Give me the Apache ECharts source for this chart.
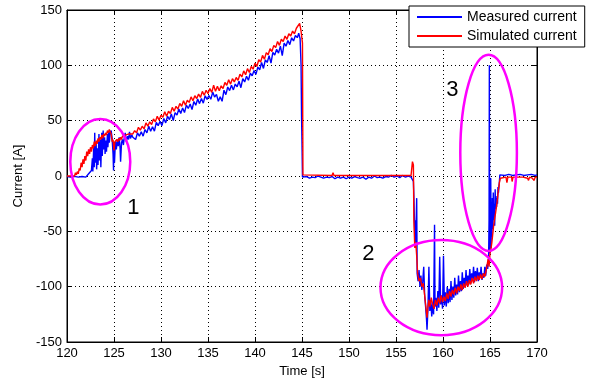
<!DOCTYPE html>
<html>
<head>
<meta charset="utf-8">
<script src="https://cdn.jsdelivr.net/npm/echarts@6/dist/echarts.min.js"></script>
<style>
  html, body { margin: 0; padding: 0; background: #fff; }
  #chart { width: 596px; height: 383px; }
</style>
</head>
<body>
<div id="chart"></div>
<script>
// Time [s] / current [A] samples
const measuredCurrent = [
  [120,-0.5],[120.4,-1],[120.8,-0.3],[121.2,-1],[121.6,-0.5],[122.0,-1],[122.1,0],[122.3,2],[122.5,3],[122.6,5],
  [122.7,16],[122.75,4],[122.85,28],[122.9,8],[122.95,39],[123.0,12],[123.1,30],[123.15,6],[123.25,25],[123.3,10],
  [123.4,38],[123.45,14],[123.55,33],[123.6,8],[123.7,39],[123.75,18],[123.85,41],[123.9,24],[124.0,35],[124.05,20],
  [124.15,32],[124.2,22],[124.3,38],[124.35,26],[124.45,40],[124.5,30],[124.6,39],[124.7,41],[124.8,34],[124.9,20],
  [124.95,5],[125.0,30],[125.05,12],[125.15,31],[125.25,24],[125.35,33],[125.45,27],[125.55,35],[125.65,25],[125.7,13],
  [125.8,30],[125.9,33],[126.0,28],[126.1,35],[126.2,39],[126.3,31],[126.45,36],[126.55,33],[126.65,40],[126.75,34],
  [126.9,37],[127.0,35],
  [127.1,36],[127.3,33],[127.5,39],[127.7,36],[127.9,40],[128.1,36],[128.3,42],[128.5,39],[128.7,45],[128.9,40.5],
  [129.1,44.5],[129.3,40.5],[129.5,48.5],[129.7,45.5],[129.9,49.5],[130.1,45.5],[130.3,52],[130.5,48],[130.7,54],[130.9,51],
  [131.1,56],[131.3,50],[131.5,57.3],[131.7,55],[131.9,60.5],[132.1,56.5],[132.3,61.4],[132.5,57.3],[132.7,64],[132.9,61],
  [133.1,65],[133.3,60],[133.5,67.3],[133.7,64],[133.9,69.6],[134.1,65.4],[134.3,70],[134.5,65.8],[134.7,72.5],[134.9,69.2],
  [135.1,72.8],[135.3,69.3],[135.5,75.8],[135.7,71.3],[135.9,73.8],[136.1,67.5],[136.3,71.5],[136.5,67.5],[136.7,77.5],[136.9,73.5],
  [137.1,80.4],[137.3,77.2],[137.5,82],[137.7,77.8],[137.9,83.1],[138.1,80.6],[138.3,85.7],[138.5,79.8],[138.7,87.9],[138.9,85],
  [139.1,90.2],[139.3,86.5],[139.5,92.8],[139.7,90.6],[139.9,95.4],[140.1,91.8],[140.3,98.4],[140.5,96],[140.7,102.6],[140.9,97.2],
  [141.1,104.9],[141.3,102.6],[141.5,108.8],[141.7,102],[141.9,111.7],[142.1,109.2],[142.3,114.6],[142.5,111],[142.7,117.4],[142.9,108.8],
  [143.1,120.1],[143.3,117.3],[143.5,122.5],[143.7,118.7],[143.9,124.9],[144.1,122],[144.3,127],[144.5,125],[144.65,129],[144.8,124],
  [144.9,100],[144.95,55],[145.0,30],[145.05,-1],
  [145.2,-1],[145.5,-0.5],[145.8,-2],[146.1,-1],[146.4,-1.5],[146.7,0],[147.0,-1],[147.3,-2],[147.6,-1],[147.9,-1.5],
  [148.2,-0.5],[148.5,-2.5],[148.8,-1],[149.1,-2],[149.4,-1],[149.7,-2.5],[150.0,-1],[150.3,-2],[150.6,-0.5],[150.9,-1.5],
  [151.2,-2],[151.5,-1],[151.8,-3],[152.1,-1],[152.4,-2],[152.7,0],[153.0,-1.5],[153.3,-1],[153.6,-2],[153.9,-0.5],
  [154.2,-1],[154.5,0.5],[154.8,-1],[155.1,0],[155.4,-1.5],[155.7,0.5],[156.0,-1],[156.3,0],[156.6,-1],[156.8,-1],
  [156.85,-5],[156.9,-18],[157.0,-55],[157.05,-40],[157.1,-60],[157.2,-20],[157.25,-88],[157.35,-95],[157.45,-85],[157.55,-100],
  [157.65,-90],[157.75,-103],[157.85,-95],[157.95,-82],[158.05,-108],[158.15,-118],[158.25,-130],[158.3,-139],[158.4,-120],[158.5,-82],
  [158.6,-122],[158.7,-112],[158.8,-127],[158.9,-115],[159.0,-125],[159.1,-44],[159.15,-118],[159.25,-110],[159.35,-122],[159.45,-104],
  [159.55,-119],[159.65,-73],[159.75,-116],[159.85,-108],[159.95,-120],[160.05,-72],[160.15,-117],[160.25,-105],[160.35,-118],[160.45,-100],
  [160.55,-115],[160.65,-102],[160.75,-114],[160.85,-95],[160.95,-112],[161.05,-100],[161.15,-110],[161.25,-92],[161.35,-108],[161.45,-98],
  [161.55,-107],[161.65,-90],[161.75,-105],[161.85,-95],[161.95,-104],[162.05,-87],[162.15,-102],[162.25,-92],[162.35,-100],[162.45,-85],
  [162.55,-99],[162.65,-90],[162.75,-98],[162.85,-84],[162.95,-97],[163.05,-88],[163.15,-95],[163.25,-82],[163.35,-96],[163.45,-86],
  [163.55,-94],[163.65,-83],[163.75,-95],[163.85,-87],[163.95,-92],[164.05,-82],[164.15,-94],[164.25,-88],[164.35,-92],[164.45,-82],
  [164.55,-90],[164.65,-80],[164.75,-84],[164.85,-75],[164.9,-40],[164.93,100],[164.96,-60],[165.0,-70],[165.05,-50],[165.08,-2],
  [165.12,-65],[165.15,-35],[165.2,-55],[165.25,-20],[165.3,-48],[165.35,-15],[165.4,-40],[165.45,-25],[165.5,-45],[165.55,-12],
  [165.6,-30],[165.65,-20],[165.7,-28],[165.75,-18],[165.8,-25],[165.85,-10],[165.9,-15],[166.0,-5],[166.05,1],[166.2,1],
  [166.6,0.5],[167.0,1.5],[167.4,0.5],[167.8,1],[168.2,1.5],[168.6,0.5],[169.0,1],[169.4,1.5],[169.8,0.5],[170,1]
];

const simulatedCurrent = [
  [120,0],[120.8,0],[120.9,3],[121.0,1],[121.1,4],[121.2,2],[121.3,7],[121.4,5],[121.5,12],[121.6,8],
  [121.7,15],[121.8,11],[121.9,18],[122.0,14],[122.1,22],[122.2,18],[122.3,24],[122.4,20],[122.5,26],[122.6,22],
  [122.7,28],[122.8,25],[122.9,31],[123.0,27],[123.1,32],[123.2,29],[123.3,34],[123.4,31],[123.5,35],[123.6,33],
  [123.7,37],[123.8,34],[123.9,38],[124.0,36],[124.1,39],[124.2,37],[124.3,41],[124.4,39],[124.5,42],[124.6,40],
  [124.7,38],[124.8,31],[124.9,33],[125.0,23],[125.1,31],[125.2,30],[125.3,33],[125.4,31],[125.5,34],[125.6,32],
  [125.7,35],[125.8,33],[125.9,36],[126.0,35],[126.2,37],[126.4,36],[126.6,38],[126.8,37],[127.0,38],
  [127.2,41],[127.4,39],[127.6,44],[127.8,41.5],[128.0,45],[128.2,42.5],[128.4,48],[128.6,45],[128.8,49],[129.0,46.5],
  [129.2,51.5],[129.4,49],[129.6,54],[129.8,50.5],[130.0,55],[130.2,53],[130.4,58],[130.6,54],[130.8,58.5],[131.0,56.5],
  [131.2,62],[131.4,58.5],[131.6,63],[131.8,60.5],[132.0,65.5],[132.2,63],[132.4,68],[132.6,64],[132.8,68.5],[133.0,66.5],
  [133.2,71.5],[133.4,68],[133.6,72.5],[133.8,70],[134.0,74],[134.2,71],[134.4,76.5],[134.6,73],[134.8,77.5],[135.0,74.5],
  [135.2,79],[135.4,75.5],[135.6,82],[135.8,76.5],[136.0,81],[136.2,77],[136.4,81.5],[136.6,79],[136.8,84.5],[137.0,82],
  [137.2,87],[137.4,83],[137.6,88],[137.8,85],[138.0,89],[138.2,86.5],[138.4,92],[138.6,89.5],[138.8,95],[139.0,91.5],
  [139.2,97],[139.4,93.5],[139.6,99],[139.8,96.5],[140.0,102],[140.2,99],[140.4,105],[140.6,103],[140.8,109],[141.0,105.5],
  [141.2,111.5],[141.4,109.5],[141.6,115],[141.8,112.5],[142.0,118],[142.2,116],[142.4,121.5],[142.6,118],[142.8,123.5],[143.0,121.5],
  [143.2,126.5],[143.4,123.5],[143.6,128.5],[143.8,126.5],[144.0,131],[144.2,128.5],[144.4,133.5],[144.6,132.5],[144.75,138],[144.9,131],
  [145.05,120],[145.1,1],[145.3,0.5],[148.2,0.5],[148.3,3],[148.4,0.5],[156.6,0.5],[156.7,0.5],[156.75,13],[156.85,10],
  [156.9,-40],[157.0,-65],[157.1,-60],[157.2,-72],[157.3,-88],[157.45,-95],[157.6,-92],[157.75,-100],[157.9,-97],[158.05,-108],
  [158.2,-120],[158.3,-128],[158.4,-118],[158.5,-112],[158.6,-118],[158.75,-110],[158.9,-116],[159.05,-120],[159.2,-112],[159.35,-117],
  [159.5,-110],[159.65,-115],[159.8,-108],[159.95,-114],[160.1,-109],[160.25,-113],[160.4,-106],[160.55,-111],[160.7,-104],[160.85,-109],
  [161.0,-103],[161.15,-107],[161.3,-101],[161.45,-106],[161.6,-100],[161.75,-104],[161.9,-98],[162.05,-103],[162.2,-97],[162.35,-101],
  [162.5,-95],[162.65,-100],[162.8,-94],[162.95,-98],[163.1,-92],[163.25,-97],[163.4,-91],[163.55,-95],[163.7,-90],[163.85,-94],
  [164.0,-89],[164.15,-93],[164.3,-88],[164.45,-91],[164.6,-85],[164.7,-80],[164.8,-75],[164.9,-82],[165.0,-70],[165.1,-66],
  [165.2,-60],[165.3,-52],[165.4,-44],[165.5,-38],[165.6,-33],[165.7,-27],[165.8,-20],[165.9,-12],[166.0,-6],[166.1,-2],
  [166.2,-1],[166.7,-1],[166.8,-6],[166.9,-1],[167.3,-1],[167.35,-5],[167.45,-1],[168.0,-1],[168.5,-1],[169.0,-2],
  [169.1,-4],[169.2,-1],[169.5,-2],[169.7,-4],[169.8,-1],[170,-1]
];

const seriesNames = ['Measured current', 'Simulated current'];

// Highlighted regions in data units: centre (t, i), half-widths (dt, di), and numbered tag position
const regionTags = ['1', '2', '3'];
const regionCentres = [[123.54, 12.9], [159.82, -100.8], [164.85, 20.9]];
const regionHalfSpans = [[3.19, 38.6], [6.47, 43.0], [3.01, 88.6]];
const regionTagAnchors = [[127.05, -28.8], [152.05, -70.7], [161.0, 77.9]];

const FONT = 'Liberation Sans, Arial, Helvetica, sans-serif';

const chart = echarts.init(document.getElementById('chart'), null, { renderer: 'canvas' });

function axisX(position, showLabels) {
  return {
    type: 'value', position: position, min: 120, max: 170, interval: 5,
    axisLine: { show: true, onZero: false, lineStyle: { color: '#000', width: 1 } },
    axisTick: { show: true, inside: true, length: 5, lineStyle: { color: '#000' } },
    axisLabel: { show: showLabels, color: '#000', fontSize: 13, fontFamily: FONT, margin: 5 },
    splitLine: { show: showLabels, lineStyle: { color: '#000', type: [1, 3], width: 1 } },
    name: showLabels ? 'Time [s]' : '', nameLocation: 'middle', nameGap: 23,
    nameTextStyle: { color: '#000', fontSize: 13, fontFamily: FONT }
  };
}
function axisY(position, showLabels) {
  return {
    type: 'value', position: position, min: -150, max: 150, interval: 50,
    axisLine: { show: true, onZero: false, lineStyle: { color: '#000', width: 1 } },
    axisTick: { show: true, inside: true, length: 5, lineStyle: { color: '#000' } },
    axisLabel: { show: showLabels, color: '#000', fontSize: 13, fontFamily: FONT, margin: 5 },
    splitLine: { show: showLabels, lineStyle: { color: '#000', type: [1, 3], width: 1 } },
    name: showLabels ? 'Current [A]' : '', nameLocation: 'middle', nameGap: 40,
    nameTextStyle: { color: '#000', fontSize: 13, fontFamily: FONT }
  };
}

chart.setOption({
  animation: false,
  backgroundColor: '#fff',
  grid: { left: 67, right: 59, top: 10, bottom: 40, show: true, borderColor: '#000', borderWidth: 1, backgroundColor: '#fff' },
  xAxis: [axisX('bottom', true), axisX('top', false)],
  yAxis: [axisY('left', true), axisY('right', false)],
  legend: {
    data: seriesNames, orient: 'vertical', left: 409, top: 6,
    backgroundColor: '#fff', borderColor: '#000', borderWidth: 1, borderRadius: 0,
    padding: [4, 8, 4, 8], itemWidth: 45, itemHeight: 2, itemGap: 5, icon: 'rect',
    selectedMode: false, textStyle: { color: '#000', fontSize: 14, fontFamily: FONT }, z: 20
  },
  series: [
    { name: seriesNames[0], type: 'line', data: measuredCurrent, showSymbol: false, symbol: 'none',
      lineStyle: { color: '#0000ff', width: 1.4 }, itemStyle: { color: '#0000ff' }, z: 3 },
    { name: seriesNames[1], type: 'line', data: simulatedCurrent, showSymbol: false, symbol: 'none',
      lineStyle: { color: '#ff0000', width: 1.4 }, itemStyle: { color: '#ff0000' }, z: 4 }
  ]
});

// Region ellipses and their numbered tags, placed through the axis scales
const graphics = [];
regionTags.forEach(function (tag, k) {
  const c = chart.convertToPixel({ gridIndex: 0 }, regionCentres[k]);
  const ex = chart.convertToPixel({ gridIndex: 0 }, [regionCentres[k][0] + regionHalfSpans[k][0], regionCentres[k][1]]);
  const ey = chart.convertToPixel({ gridIndex: 0 }, [regionCentres[k][0], regionCentres[k][1] + regionHalfSpans[k][1]]);
  graphics.push({
    type: 'ellipse', z: 10,
    shape: { cx: c[0], cy: c[1], rx: Math.abs(ex[0] - c[0]), ry: Math.abs(c[1] - ey[1]) },
    style: { fill: 'none', stroke: '#ff00ff', lineWidth: 2.5 }
  });
  const a = chart.convertToPixel({ gridIndex: 0 }, regionTagAnchors[k]);
  graphics.push({
    type: 'text', z: 11, x: a[0], y: a[1],
    style: { text: tag, fill: '#000', font: '22px ' + FONT, align: 'center', verticalAlign: 'middle' }
  });
});
chart.setOption({ graphic: graphics });
</script>
</body>
</html>
